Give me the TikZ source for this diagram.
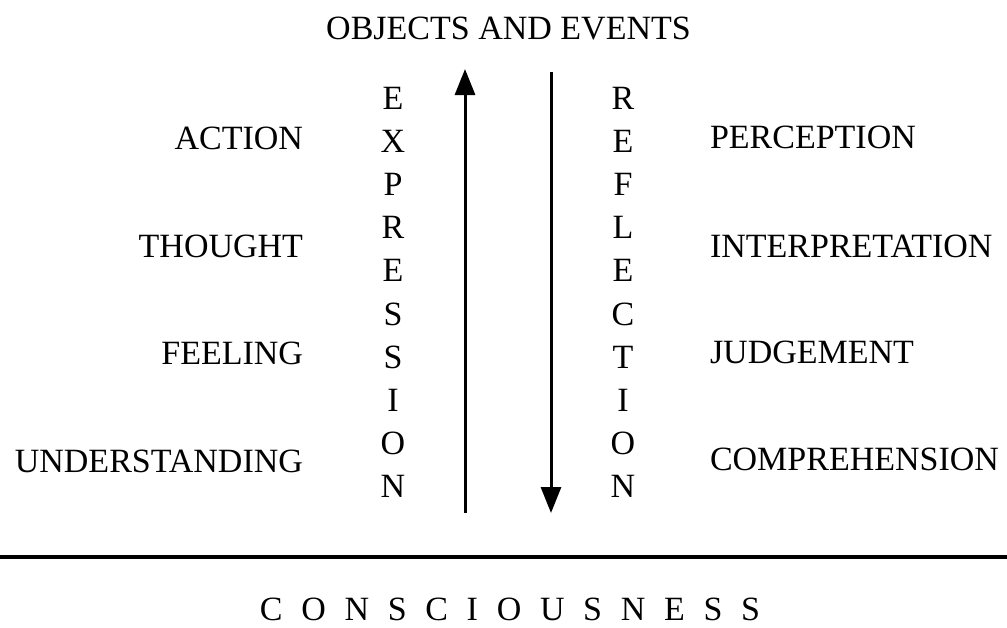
\documentclass[tikz,border=0pt]{standalone}
\usepackage{fontspec}
\setmainfont{Liberation Serif}
\usetikzlibrary{arrows.meta}
\tikzset{
  txt/.style={inner sep=0pt, outer sep=0pt, font=\fontsize{34}{40}\selectfont},
  lbl/.style={txt, anchor=base east},
  rbl/.style={txt, anchor=base west},
  col/.style={txt, anchor=base},
  arr/.style={line width=3pt, -{Triangle[length=26pt,width=20pt]}},
  rule/.style={line width=3.5pt}
}
\begin{document}
\begin{tikzpicture}[x=1pt,y=-1pt]
\useasboundingbox (0,0) rectangle (1007,627);
\node[col] (top) at (508.5,39) {OBJECTS AND EVENTS};
% left labels
\node[lbl] (action) at (303,149) {ACTION};
\node[lbl] (thought) at (303,257) {THOUGHT};
\node[lbl] (feeling) at (303,364) {FEELING};
\node[lbl] (underst) at (303,472) {UNDERSTANDING};
% right labels
\node[rbl] (percep) at (710,148) {PERCEPTION};
\node[rbl] (interp) at (710,257) {INTERPRETATION};
\node[rbl] (judge) at (710,363) {JUDGEMENT};
\node[rbl] (compr) at (710,470) {COMPREHENSION};
% vertical words
\foreach \l [count=\i from 0] in {E,X,P,R,E,S,S,I,O,N}
  \node[col] (ex\i) at (393,109+43.2*\i) {\l};
\foreach \l [count=\i from 0] in {R,E,F,L,E,C,T,I,O,N}
  \node[col] (re\i) at (623,109+43.2*\i) {\l};
% arrows
\coordinate (upS) at (465,513);
\coordinate (upE) at (465,69);
\coordinate (dnS) at (551,72);
\coordinate (dnE) at (551,513);
\draw[arr] (upS) -- (upE);
\draw[arr] (dnS) -- (dnE);
% rule
\coordinate (rl) at (0,557);
\coordinate (rr) at (1007,557);
\draw[rule] (rl) -- (rr);
\node[col] (cons) at (510,620) {C\hspace{0.55em}O\hspace{0.55em}N\hspace{0.55em}S\hspace{0.55em}C\hspace{0.55em}I\hspace{0.55em}O\hspace{0.55em}U\hspace{0.55em}S\hspace{0.55em}N\hspace{0.55em}E\hspace{0.55em}S\hspace{0.55em}S};
\end{tikzpicture}
\end{document}
